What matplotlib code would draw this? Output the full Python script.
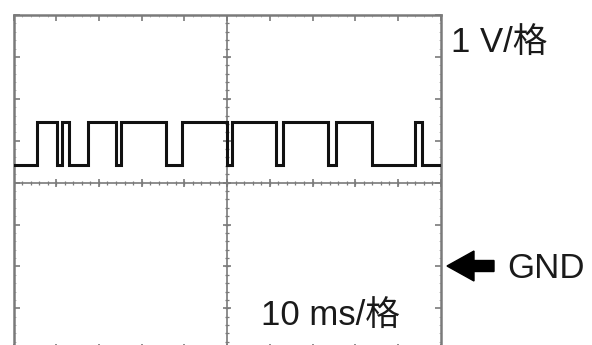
import numpy as np
import matplotlib.pyplot as plt
from matplotlib.patches import FancyArrow
from matplotlib.transforms import IdentityTransform

# scope screen in divisions: 10 across, 8 high (centre line at y=0)
low_level = 0.42
high_level = 1.45
# edge times (div), signal starts low and toggles at each edge
edges = [0.55, 1.02, 1.14, 1.30, 1.74, 2.39, 2.52, 3.56, 3.94, 5.00,
         5.12, 6.15, 6.30, 7.36, 7.54, 8.40, 9.39, 9.57]

volt_label = "1 V/格"
time_label = "10 ms/格"
gnd_label = "GND"

plt.rcParams['font.family'] = ['Liberation Sans', 'Noto Sans CJK SC', 'DejaVu Sans']

fig = plt.figure(figsize=(5.92, 3.45), dpi=100)
W, H = 592, 345
left, right, top, bottom = 13.5, 440.7, 15, 350.2
ax = fig.add_axes([left / W, 1 - bottom / H, (right - left) / W, (bottom - top) / H])
ax.set_xlim(0, 10)
ax.set_ylim(-4, 4)

grey = '#7a7a7a'
for s in ax.spines.values():
    s.set_color(grey)
    s.set_linewidth(1.8)
ax.set_xticks(np.arange(0, 11, 1))
ax.set_yticks(np.arange(-4, 5, 1))
ax.set_xticks(np.arange(0, 10.01, 0.2), minor=True)
ax.set_yticks(np.arange(-4, 4.01, 0.2), minor=True)
ax.tick_params(which='major', direction='in', length=4, width=1.2, color=grey,
               top=True, right=True, labelbottom=False, labelleft=False)
ax.tick_params(which='minor', direction='in', length=1.2, width=0.6, color='#b0b0b0',
               top=True, right=True)

# centre crosshair with its graduation marks
ax.axhline(0, color=grey, lw=1.2, zorder=1)
ax.axvline(5, color=grey, lw=1.2, zorder=1)
minor_x = np.arange(0, 10.01, 0.2)
minor_y = np.arange(-4, 4.01, 0.2)
ax.plot(minor_x, np.zeros_like(minor_x), ls='none', marker='|', ms=3.5, mew=0.9, color=grey, zorder=1)
ax.plot(np.full_like(minor_y, 5), minor_y, ls='none', marker='_', ms=3.5, mew=0.9, color=grey, zorder=1)
ax.plot(np.arange(0, 11), np.zeros(11), ls='none', marker='|', ms=6, mew=1.2, color=grey, zorder=1)
ax.plot(np.full(9, 5), np.arange(-4, 5), ls='none', marker='_', ms=6, mew=1.2, color=grey, zorder=1)

# signal trace
xs, ys = [0.0], [low_level]
level = low_level
for t in edges:
    new = high_level if level == low_level else low_level
    xs += [t, t]
    ys += [level, new]
    level = new
xs.append(10.0)
ys.append(level)
ax.plot(xs, ys, color='#111111', lw=2.2, solid_joinstyle='miter', zorder=3)

txt = dict(fontsize=25, color='#1a1a1a', ha='left', va='baseline')
fig.text(451 / W, 1 - 53 / H, volt_label, **txt)
fig.text(507 / W, 1 - 278 / H, gnd_label, **txt)
fig.text(261 / W, 1 - 326 / H, time_label, **txt)

# GND marker arrow (pixel coordinates)
fig.add_artist(FancyArrow(494, H - 266, -47, 0, width=11, head_width=30,
                          head_length=27, length_includes_head=True,
                          color='black', transform=IdentityTransform()))

fig.savefig('out.png', dpi=100)
